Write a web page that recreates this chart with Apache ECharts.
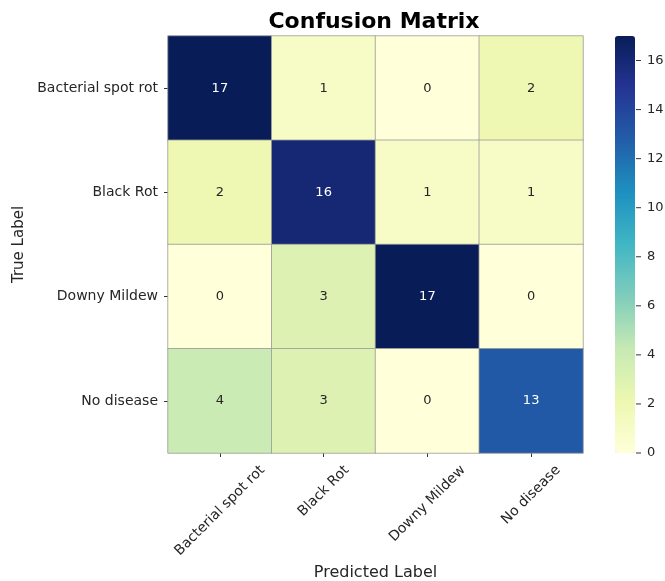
<!DOCTYPE html>
<html>
<head>
<meta charset="utf-8">
<script src="https://cdn.jsdelivr.net/npm/echarts@6/dist/echarts.min.js"></script>
<style>html,body{margin:0;padding:0;background:#fff}#chart{width:665px;height:581px}</style>
</head>
<body>
<div id="chart"></div>
<script>
// Class names, shared by both axes
const classes = ['Bacterial spot rot', 'Black Rot', 'Downy Mildew', 'No disease'];
// Confusion counts, one row per true class (columns = predicted class)
const rowBacterial = [17, 1, 0, 2];
const rowBlackRot = [2, 16, 1, 1];
const rowDowny = [0, 3, 17, 0];
const rowNoDisease = [4, 3, 0, 13];
const matrix = [rowBacterial, rowBlackRot, rowDowny, rowNoDisease];
// Colour bar range and tick step
const colorMin = 0;
const colorMax = 17;
const colorTickStep = 2;

// YlGnBu palette
const ylgnbu = ['#ffffd9', '#edf8b1', '#c7e9b4', '#7fcdbb', '#41b6c4', '#1d91c0', '#225ea8', '#253494', '#081d58'];

const font = 'DejaVu Sans';
const tickFontSize = 14;
const textColor = '#262626';
const tickColor = '#333333';

const data = [];
matrix.forEach((row, r) => {
  row.forEach((v, c) => {
    data.push({
      value: [c, r, v],
      label: { color: v > 8 ? '#ffffff' : textColor }
    });
  });
});

// Rotated x labels are centred on their tick: pad each one by its own
// measured length so the rotated box hangs symmetrically below the tick.
const measureCtx = document.createElement('canvas').getContext('2d');
measureCtx.font = tickFontSize + 'px "' + font + '"';
const xRich = {};
classes.forEach((name, i) => {
  const w = measureCtx.measureText(name).width;
  const p = (w + tickFontSize) / 2;
  xRich['c' + i] = {
    fontFamily: font, fontSize: tickFontSize, color: textColor,
    padding: [p, p, 0, 0]
  };
});

const hiddenLine = { show: true, onZero: false, lineStyle: { color: 'rgba(0,0,0,0)' } };
const outerTick = { show: true, inside: false, length: 4, lineStyle: { color: tickColor, width: 1 } };

const chart = echarts.init(document.getElementById('chart'), null, { renderer: 'canvas' });
chart.setOption({
  backgroundColor: '#ffffff',
  animation: false,
  title: {
    text: 'Confusion Matrix',
    left: 369, top: 6, textAlign: 'center',
    textStyle: { fontFamily: font, fontWeight: 'bold', fontSize: 22, color: '#000' }
  },
  grid: [
    { left: 168, top: 36, right: 82, bottom: 128, containLabel: false, outerBoundsMode: 'none' },
    // thin strip on the colour bar's right edge that carries its scale
    { left: 635, top: 36, width: 1, bottom: 128, containLabel: false, outerBoundsMode: 'none' }
  ],
  xAxis: [
    {
      type: 'category', data: classes, gridIndex: 0,
      name: 'Predicted Label', nameLocation: 'middle', nameGap: 108,
      nameTextStyle: { fontFamily: font, fontSize: 16, color: textColor },
      axisLine: hiddenLine,
      axisTick: Object.assign({ alignWithLabel: true }, outerTick),
      axisLabel: {
        rotate: 45, align: 'center', verticalAlign: 'middle', margin: 10,
        formatter: (v, i) => '{c' + i + '|' + v + '}',
        rich: xRich
      },
      splitLine: { show: false }
    },
    { type: 'value', gridIndex: 1, min: 0, max: 1, show: false }
  ],
  yAxis: [
    {
      type: 'category', data: classes, gridIndex: 0, inverse: true,
      name: 'True Label', nameLocation: 'middle', nameGap: 134,
      nameTextStyle: { fontFamily: font, fontSize: 15, color: textColor },
      axisLine: hiddenLine,
      axisTick: Object.assign({ alignWithLabel: true }, outerTick),
      axisLabel: { fontFamily: font, fontSize: tickFontSize, color: textColor, margin: 10 },
      splitLine: { show: false }
    },
    {
      type: 'value', gridIndex: 1, position: 'right',
      min: colorMin, max: colorMax, interval: colorTickStep,
      axisLine: { show: false, onZero: false },
      axisTick: { show: false },
      axisLabel: {
        margin: 0, showMaxLabel: false,
        // each label carries its own short tick mark in front of the number
        formatter: v => '{t|}{v|' + v + '}',
        rich: {
          t: { width: 5, height: 1, backgroundColor: tickColor, verticalAlign: 'middle' },
          v: { fontFamily: font, fontSize: 13, color: textColor, padding: [0, 0, 0, 6], verticalAlign: 'middle' }
        }
      },
      splitLine: { show: false }
    }
  ],
  visualMap: {
    type: 'continuous', min: colorMin, max: colorMax,
    seriesIndex: 0, calculable: false, orient: 'vertical',
    left: 615, top: 36, itemWidth: 20, itemHeight: 417, padding: 0,
    text: null, showLabel: false,
    inRange: { color: ylgnbu }
  },
  series: [
    {
      type: 'heatmap', xAxisIndex: 0, yAxisIndex: 0,
      data: data,
      itemStyle: { borderColor: '#9a9a9a', borderWidth: 0.8 },
      label: { show: true, fontFamily: font, fontSize: 13, formatter: p => p.value[2] },
      emphasis: { disabled: true }
    }
  ]
});
</script>
</body>
</html>
